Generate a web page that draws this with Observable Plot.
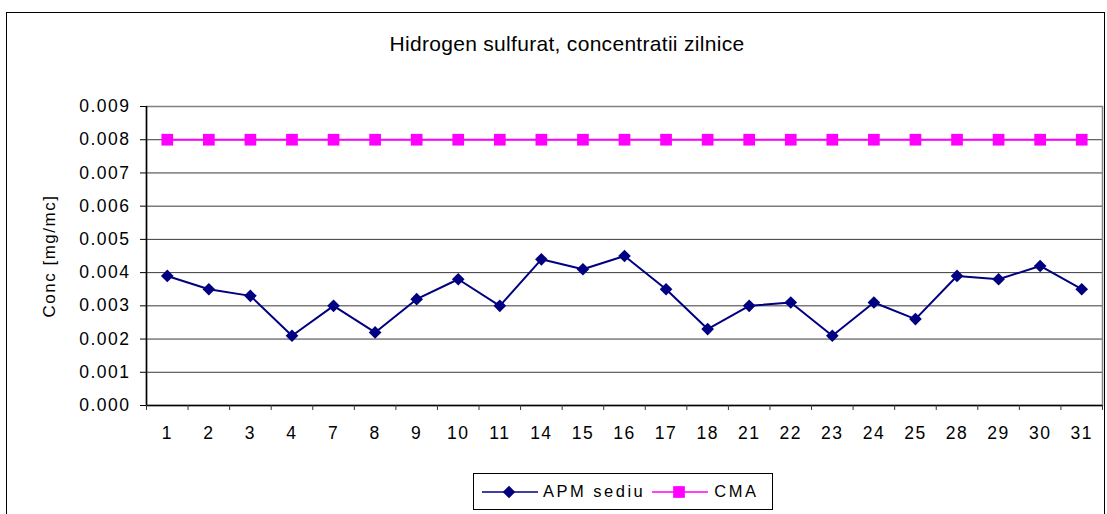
<!DOCTYPE html>
<html><head><meta charset="utf-8">
<script src="https://cdn.jsdelivr.net/npm/d3@7"></script>
<script src="https://cdn.jsdelivr.net/npm/@observablehq/plot@0.6"></script>
<style>
body{margin:0;background:#fff;font-family:"Liberation Sans",Arial,sans-serif;}
#wrap{position:relative;width:1107px;height:514px;overflow:hidden;background:#fff;}
#border{position:absolute;left:6px;top:12px;width:1099px;height:560px;border:1.5px solid #000;box-sizing:border-box;}
#chart{position:absolute;left:0;top:0;}
#chart svg text{letter-spacing:1.5px;}
#title{position:absolute;left:317px;top:33px;width:500px;text-align:center;font-size:21px;line-height:21px;letter-spacing:0.3px;color:#000;white-space:nowrap;}
#legend{position:absolute;left:473px;top:473px;width:300px;height:37px;border:1px solid #000;box-sizing:border-box;display:flex;align-items:center;font-size:16.5px;letter-spacing:2.5px;color:#000;white-space:nowrap;}
#legend svg{display:block;flex:none;}
</style>
</head><body>
<div id="wrap">
  <div id="border"></div>
  <div id="chart"></div>
  <div id="title">Hidrogen sulfurat, concentratii zilnice</div>
  <div id="legend"></div>
</div>
<script>
const days = ["1","2","3","4","7","8","9","10","11","14","15","16","17","18","21","22","23","24","25","28","29","30","31"];
const apmSediu = [0.0039,0.0035,0.0033,0.0021,0.0030,0.0022,0.0032,0.0038,0.0030,0.0044,0.0041,0.0045,0.0035,0.0023,0.0030,0.0031,0.0021,0.0031,0.0026,0.0039,0.0038,0.0042,0.0035];
const cma = [0.008,0.008,0.008,0.008,0.008,0.008,0.008,0.008,0.008,0.008,0.008,0.008,0.008,0.008,0.008,0.008,0.008,0.008,0.008,0.008,0.008,0.008,0.008];
const yTicks = [0,0.001,0.002,0.003,0.004,0.005,0.006,0.007,0.008,0.009];
const seriesNames = ["APM sediu","CMA"];
const seriesColors = ["#000080","#ff00ff"];
const title = "Hidrogen sulfurat, concentratii zilnice";
const yLabel = "Conc [mg/mc]";

const W = 1107, H = 514, mL = 146, mR = 5, mT = 106, mB = 109;
const bw = (W - mL - mR) / days.length;
const rows = days.map((d, i) => ({day: d, apm: apmSediu[i], cma: cma[i]}));

const plot = Plot.plot({
  width: W, height: H,
  marginLeft: mL, marginRight: mR, marginTop: mT, marginBottom: mB,
  style: {fontFamily: "'Liberation Sans', Arial, sans-serif", background: "transparent", color: "#000", fontSize: "17px"},
  x: {type: "band", domain: days, padding: 0, round: false, label: null},
  y: {domain: [0, 0.009], label: null},
  marks: [
    Plot.ruleY(yTicks.slice(1, -1), {stroke: "#3a3a3a", strokeWidth: 1}),
    Plot.frame({stroke: "#808080", strokeWidth: 1.5}),
    Plot.ruleY([0], {stroke: "#000", strokeWidth: 1.5}),
    Plot.ruleX([days[0]], {dx: -bw / 2, stroke: "#000", strokeWidth: 1.5}),
    Plot.axisY({ticks: yTicks, tickFormat: d3.format(".3f"), tickSize: 6, tickPadding: 10, fontSize: 17.5, stroke: "#000", label: null}),
    Plot.axisX({tickSize: 5, tickFormat: () => "", dx: -bw / 2, stroke: "#333", label: null}),
    Plot.axisX([days[days.length - 1]], {tickSize: 5, tickFormat: () => "", dx: bw / 2, stroke: "#333", label: null}),
    Plot.axisX({tickSize: 0, tickPadding: 21, fontSize: 17.5, label: null}),
    Plot.text([yLabel], {frameAnchor: "left", textAnchor: "middle", lineAnchor: "middle", rotate: -90, dx: -97, fontSize: 17, text: d => d, fill: "#000"}),
    Plot.line(rows, {x: "day", y: "cma", stroke: seriesColors[1], strokeWidth: 2}),
    Plot.dot(rows, {x: "day", y: "cma", symbol: "square", r: 6.6, fill: seriesColors[1], stroke: "none"}),
    Plot.line(rows, {x: "day", y: "apm", stroke: seriesColors[0], strokeWidth: 2}),
    Plot.dot(rows, {x: "day", y: "apm", symbol: "diamond2", r: 5.7, fill: seriesColors[0], stroke: "none"})
  ]
});
document.getElementById("chart").appendChild(plot);
document.getElementById("title").textContent = title;

// legend
const legend = d3.select("#legend");
const symbols = [d3.symbol(d3.symbolDiamond2, 101), d3.symbol(d3.symbolSquare, 137)];
const leftGaps = [8, 7];
seriesNames.forEach((name, i) => {
  const sw = legend.append("svg").attr("width", 56).attr("height", 16).style("margin-left", leftGaps[i] + "px");
  sw.append("line").attr("x1", 0).attr("x2", 56).attr("y1", 8).attr("y2", 8).attr("stroke", seriesColors[i]).attr("stroke-width", 1.5);
  sw.append("path").attr("d", symbols[i]()).attr("transform", "translate(27,8)").attr("fill", seriesColors[i]);
  legend.append("span").text(name).style("margin-left", (i === 0 ? 5 : 6) + "px");
});
</script>
</body></html>
